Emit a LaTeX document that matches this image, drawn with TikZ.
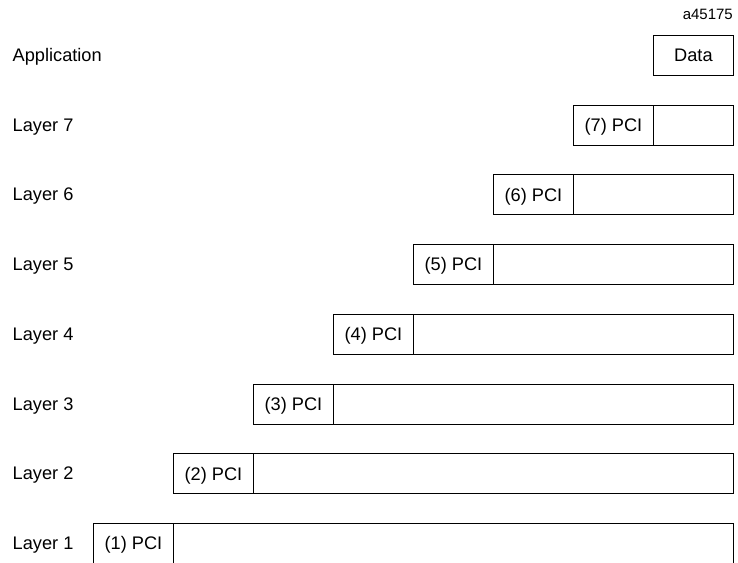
\documentclass[tikz,border=0pt]{standalone}
\usepackage{fontspec}
\setmainfont{Liberation Sans}
\begin{document}
\begin{tikzpicture}[x=1pt,y=-1pt,
  cell/.style={draw, line width=0.9pt, minimum height=40pt, inner sep=0pt, text height=13pt, text depth=0pt, anchor=north west, font=\fontsize{18.2}{20}\selectfont},
  opencell/.style={cell, draw=none},
  lbl/.style={anchor=base west, inner sep=0pt, font=\fontsize{18.2}{20}\selectfont},
  tag/.style={anchor=base east, inner sep=0pt, font=\fontsize{15}{16}\selectfont}]
\useasboundingbox (0,0) rectangle (738,562);
\node[tag] (code) at (733,19.5) {a45175};
\node[lbl] (lapp) at (12.5,61.8) {Application};
\node[cell, minimum width=80pt] (data) at (653,35) {Data};
\foreach \k in {7,...,2}{
  \pgfmathsetmacro{\yt}{104.5+69.75*(7-\k)}
  \pgfmathsetmacro{\xl}{573-80*(7-\k)}
  \pgfmathsetmacro{\dw}{733-\xl-80}
  \node[cell, minimum width=80pt] (pci\k) at (\xl,\yt) {(\k) PCI};
  \node[cell, minimum width=\dw pt] (d\k) at (\xl+80,\yt) {};
  \node[lbl] (l\k) at (12.5,\yt+26.5) {Layer \k};
}
\node[opencell, minimum width=80pt] (pci1) at (93,523) {(1) PCI};
\node[opencell, minimum width=560pt] (d1) at (173,523) {};
\node[lbl] (l1) at (12.5,549.5) {Layer 1};
\draw[line width=0.9pt] (pci1.south west) -- (pci1.north west) -- (d1.north east) -- (d1.south east);
\draw[line width=0.9pt] (pci1.north east) -- (pci1.south east);
\end{tikzpicture}
\end{document}
